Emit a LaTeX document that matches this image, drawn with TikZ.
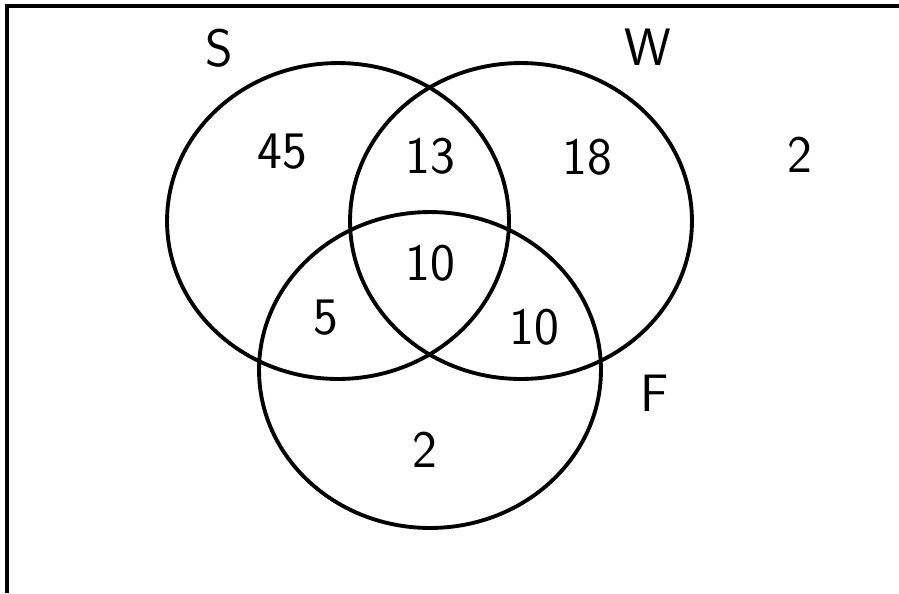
\documentclass[tikz,border=0pt]{standalone}
\usepackage{tikz}
\usetikzlibrary{shapes.geometric}
\tikzset{ring/.style={draw,ellipse,line width=2.2pt,minimum width=6.84cm,minimum height=6.32cm,inner sep=0pt}, count/.style={font=\sffamily\fontsize{30}{32}\selectfont,inner sep=0pt}, setname/.style={font=\sffamily\fontsize{30}{32}\selectfont,inner sep=0pt}}

\begin{document}
\begin{tikzpicture}[x=0.02cm,y=-0.02cm]
\useasboundingbox (0,0) rectangle (899,593);
\draw[line width=2.2pt] (7,593)--(7,6)--(899,6);
\node[ring] (S) at (338,221) {};
\node[ring] (W) at (521,221) {};
\node[ring] (F) at (430,370) {};
\node[setname] (sname) at (219,48) {S};
\node[setname] (wname) at (648,47) {W};
\node[setname] (fname) at (655,393) {F};
\node[count] (s) at (282,152) {45};
\node[count] (sw) at (430,156) {13};
\node[count] (w) at (587,157) {18};
\node[count] (swf) at (430,263) {10};
\node[count] (sf) at (326,318) {5};
\node[count] (wf) at (534,327) {10};
\node[count] (f) at (425,450) {2};
\node[count] (out) at (800,155) {2};
\end{tikzpicture}
\end{document}
